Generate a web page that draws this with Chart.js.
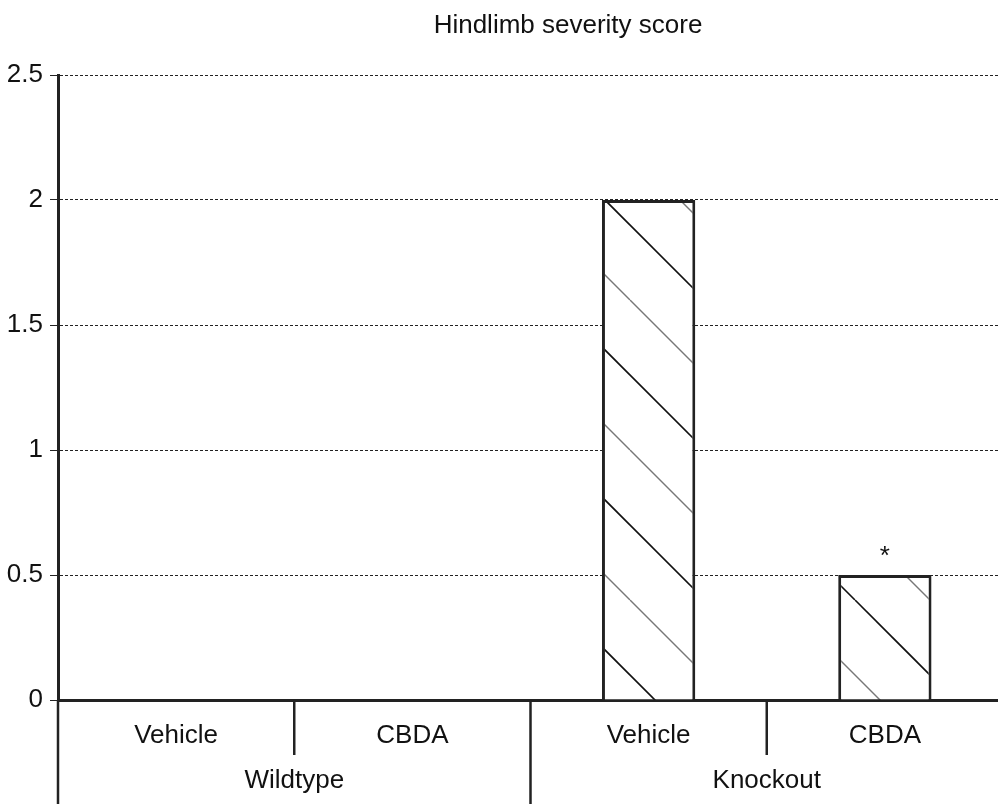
<!DOCTYPE html>
<html>
<head>
<meta charset="utf-8">
<script src="https://cdn.jsdelivr.net/npm/chart.js@4"></script>
<style>
html,body{margin:0;padding:0;background:#fff;}
#wrap{width:998px;height:804px;}
</style>
</head>
<body>
<div id="wrap"><canvas id="c" width="998" height="804"></canvas></div>
<script>
const titleText = 'Hindlimb severity score';
const categories = ['Vehicle', 'CBDA', 'Vehicle', 'CBDA'];
const groups = ['Wildtype', 'Knockout'];
const groupSize = 2;
const scores = [0, 0, 2, 0.5];
const significance = ['', '', '', '*'];
const yTicks = [0, 0.5, 1, 1.5, 2, 2.5];

const FONT = '"Liberation Sans", Arial, sans-serif';

function makeHatch() {
  const P = 150;
  const t = document.createElement('canvas');
  t.width = P; t.height = P;
  const g = t.getContext('2d');
  g.fillStyle = '#fff';
  g.fillRect(0, 0, P, P);
  const lines = [{c: 105, col: '#111', w: 1.6}, {c: 30, col: '#777', w: 1.4}];
  lines.forEach(l => {
    g.strokeStyle = l.col; g.lineWidth = l.w;
    for (let k = -2; k <= 1; k++) {
      g.beginPath();
      g.moveTo(l.c + k * P, 0);
      g.lineTo(l.c + k * P + P, P);
      g.stroke();
    }
  });
  return document.getElementById('c').getContext('2d').createPattern(t, 'repeat');
}

const extras = {
  id: 'extras',
  afterLayout(chart) {
    // the source plot runs slightly past the right edge of the picture
    const x = chart.scales.x;
    x.right += 5;
    x.width += 5;
    x.configure();
  },
  afterDraw(chart) {
    const ctx = chart.ctx;
    const x = chart.scales.x;
    const area = chart.chartArea;
    ctx.save();
    // title
    ctx.fillStyle = '#111';
    ctx.font = '26px ' + FONT;
    ctx.textAlign = 'center';
    ctx.textBaseline = 'alphabetic';
    ctx.fillText(titleText, 568, 33);
    // separators
    ctx.strokeStyle = '#222';
    ctx.lineWidth = 2.5;
    const n = categories.length;
    for (let i = 0; i < n; i++) {
      const px = i === 0 ? area.left : (x.getPixelForTick(i - 1) + x.getPixelForTick(i)) / 2;
      const long = (i % groupSize === 0);
      ctx.beginPath();
      ctx.moveTo(px, area.bottom);
      ctx.lineTo(px, long ? 804 : 755);
      ctx.stroke();
    }
    // group labels
    ctx.font = '26px ' + FONT;
    ctx.fillStyle = '#111';
    groups.forEach((gname, gi) => {
      const a = x.getPixelForTick(gi * groupSize);
      const b = x.getPixelForTick(gi * groupSize + groupSize - 1);
      ctx.fillText(gname, (a + b) / 2, 788);
    });
    // significance markers
    const meta = chart.getDatasetMeta(0);
    meta.data.forEach((bar, i) => {
      if (significance[i]) {
        ctx.fillText(significance[i], bar.x, bar.y - 11);
      }
    });
    ctx.restore();
  }
};

new Chart(document.getElementById('c'), {
  type: 'bar',
  data: {
    labels: categories,
    datasets: [{
      data: scores,
      backgroundColor: makeHatch(),
      borderColor: '#222',
      borderWidth: 3,
      barPercentage: 0.395,
      categoryPercentage: 1.0
    }]
  },
  options: {
    responsive: false,
    animation: false,
    events: [],
    layout: {padding: {top: 75, right: 0, left: 0, bottom: 0}},
    plugins: {legend: {display: false}, title: {display: false}, tooltip: {enabled: false}},
    scales: {
      x: {
        grid: {display: false},
        border: {display: true, color: '#222', width: 3},
        ticks: {color: '#111', font: {family: FONT, size: 26}, padding: 12, maxRotation: 0},
        afterFit(s) { s.height = 104; }
      },
      y: {
        min: 0, max: 2.5,
        afterBuildTicks(s) { s.ticks = yTicks.map(v => ({value: v})); },
        grid: {color: '#222', lineWidth: 1, tickLength: 8},
        border: {display: true, color: '#222', width: 3, dash: [3, 2]},
        ticks: {color: '#111', font: {family: FONT, size: 26}, padding: 7, callback: v => String(v)},
        afterFit(s) { s.width = 58; }
      }
    }
  },
  plugins: [extras]
});
</script>
</body>
</html>
